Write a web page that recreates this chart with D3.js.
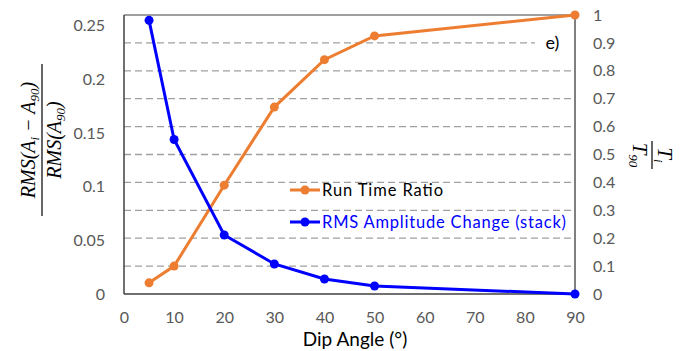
<!DOCTYPE html>
<html>
<head>
<meta charset="utf-8">
<script src="https://cdn.jsdelivr.net/npm/d3@7"></script>
<style>
  body { margin: 0; background: #fff; }
  text { font-family: Lato, "Open Sans", sans-serif; }
</style>
</head>
<body>
<div id="container"></div>
<script>
/* CONSTANTS AND GLOBALS */
const width = 690,
  height = 351,
  margin = { top: 15, bottom: 57, left: 124, right: 115 }

/* DATA */
const dipAngles = [5, 10, 20, 30, 40, 50, 90]
const runTimeRatio = [0.04, 0.1, 0.39, 0.67, 0.84, 0.925, 1.0]
const rmsChange = [0.255, 0.144, 0.055, 0.028, 0.014, 0.0075, 0]
const xTicks = [0, 10, 20, 30, 40, 50, 60, 70, 80, 90]
const leftTicks = [0, 0.05, 0.1, 0.15, 0.2, 0.25]
const rightTicks = [0, 0.1, 0.2, 0.3, 0.4, 0.5, 0.6, 0.7, 0.8, 0.9, 1]
const seriesNames = ["Run Time Ratio", "RMS Amplitude Change (stack)"]

const orange = "#ED7D31", blue = "#0000FF", labelColor = "#595959"

const svg = d3.select("#container")
  .append("svg")
  .attr("width", width)
  .attr("height", height)

const xScale = d3.scaleLinear()
  .domain([0, 90])
  .range([margin.left, width - margin.right])

const yLeft = d3.scaleLinear()
  .domain([0, 0.26])
  .range([height - margin.bottom, margin.top])

const yRight = d3.scaleLinear()
  .domain([0, 1])
  .range([height - margin.bottom, margin.top])

// gridlines (right axis)
svg.append("g")
  .selectAll("line")
  .data(rightTicks.slice(1, -1))
  .join("line")
  .attr("x1", margin.left)
  .attr("x2", width - margin.right)
  .attr("y1", d => yRight(d))
  .attr("y2", d => yRight(d))
  .attr("stroke", "#a0a0a0")
  .attr("stroke-width", 1.3)
  .attr("stroke-dasharray", "7,4")

// "e)" label box
svg.append("rect")
  .attr("x", xScale(82))
  .attr("y", yRight(0.955))
  .attr("width", width - margin.right - xScale(82) - 2)
  .attr("height", yRight(0.84) - yRight(0.955))
  .attr("fill", "#fff")
svg.append("text")
  .attr("x", xScale(85.5))
  .attr("y", yRight(0.9) + 6)
  .attr("text-anchor", "middle")
  .attr("font-size", "18px")
  .attr("fill", "#000")
  .text("e)")

// axes
const xAxis = d3.axisBottom(xScale).tickValues(xTicks).tickSize(0).tickPadding(18)
svg.append("g")
  .attr("class", "x-axis")
  .attr("transform", `translate(0, ${height - margin.bottom})`)
  .call(xAxis)

const leftAxis = d3.axisLeft(yLeft).tickValues(leftTicks).tickSize(0).tickPadding(19)
  .tickFormat(d => +d.toFixed(2))
svg.append("g")
  .attr("class", "y-axis")
  .attr("transform", `translate(${margin.left}, 0)`)
  .call(leftAxis)

const rightAxis = d3.axisRight(yRight).tickValues(rightTicks).tickSize(0).tickPadding(18)
  .tickFormat(d => +d.toFixed(1))
svg.append("g")
  .attr("class", "y-axis-right")
  .attr("transform", `translate(${width - margin.right}, 0)`)
  .call(rightAxis)

svg.selectAll(".tick text")
  .attr("font-family", "Lato, sans-serif")
  .attr("font-size", "16px")
  .attr("fill", labelColor)
svg.selectAll(".domain").remove()

// frame lines
svg.append("line")
  .attr("x1", margin.left).attr("x2", width - margin.right)
  .attr("y1", margin.top).attr("y2", margin.top)
  .attr("stroke", "#404040").attr("stroke-width", 1.2)
svg.append("line")
  .attr("x1", margin.left).attr("x2", width - margin.right)
  .attr("y1", height - margin.bottom).attr("y2", height - margin.bottom)
  .attr("stroke", "#404040").attr("stroke-width", 1.5)
svg.append("line")
  .attr("x1", margin.left).attr("x2", margin.left)
  .attr("y1", margin.top).attr("y2", height - margin.bottom)
  .attr("stroke", "#404040").attr("stroke-width", 1.5)
svg.append("line")
  .attr("x1", width - margin.right).attr("x2", width - margin.right)
  .attr("y1", margin.top).attr("y2", height - margin.bottom)
  .attr("stroke", "#808080").attr("stroke-width", 2)

// series
const runData = dipAngles.map((d, i) => ({ x: d, y: runTimeRatio[i] }))
const rmsData = dipAngles.map((d, i) => ({ x: d, y: rmsChange[i] }))

const runLine = d3.line().x(d => xScale(d.x)).y(d => yRight(d.y))
const rmsLine = d3.line().x(d => xScale(d.x)).y(d => yLeft(d.y))

svg.append("path")
  .datum(runData)
  .attr("d", runLine)
  .attr("fill", "none")
  .attr("stroke", orange)
  .attr("stroke-width", 3)
svg.selectAll("circle.run")
  .data(runData)
  .join("circle")
  .attr("class", "run")
  .attr("cx", d => xScale(d.x))
  .attr("cy", d => yRight(d.y))
  .attr("r", 4.5)
  .attr("fill", orange)

svg.append("path")
  .datum(rmsData)
  .attr("d", rmsLine)
  .attr("fill", "none")
  .attr("stroke", blue)
  .attr("stroke-width", 3)
svg.selectAll("circle.rms")
  .data(rmsData)
  .join("circle")
  .attr("class", "rms")
  .attr("cx", d => xScale(d.x))
  .attr("cy", d => yLeft(d.y))
  .attr("r", 4.5)
  .attr("fill", blue)

// legend
const legend = svg.append("g")
const legendItems = [
  { name: seriesNames[0], color: orange, text: "#000", y: 190, len: 121 },
  { name: seriesNames[1], color: blue, text: blue, y: 222, len: 244 }
]
legendItems.forEach(item => {
  legend.append("line")
    .attr("x1", 290).attr("x2", 320)
    .attr("y1", item.y).attr("y2", item.y)
    .attr("stroke", item.color).attr("stroke-width", 3)
  legend.append("circle")
    .attr("cx", 305).attr("cy", item.y).attr("r", 4.5)
    .attr("fill", item.color)
  legend.append("text")
    .attr("x", 322).attr("y", item.y + 6)
    .attr("font-size", "16.5px")
    .attr("textLength", item.len)
    .attr("lengthAdjust", "spacing")
    .attr("fill", item.text)
    .text(item.name)
})

// x axis title
svg.append("text")
  .attr("x", 355)
  .attr("y", 346)
  .attr("text-anchor", "middle")
  .attr("font-size", "19px")
  .attr("fill", "#000")
  .text("Dip Angle (°)")

// left y title (fraction)
const leftTitle = svg.append("g")
  .attr("transform", "translate(42, 140) rotate(-90)")
  .attr("font-style", "italic")
  .attr("font-size", "20px")
  .attr("fill", "#000")
const num = leftTitle.append("text").attr("x", 0).attr("y", -7).attr("text-anchor", "middle")
  .style("font-family", "'Liberation Serif', serif")
num.append("tspan").text("RMS(A")
num.append("tspan").attr("font-size", "13px").attr("dy", 4).text("i")
num.append("tspan").attr("dy", -4).text(" \u2212 A")
num.append("tspan").attr("font-size", "13px").attr("dy", 4).text("90")
num.append("tspan").attr("dy", -4).text(")")
leftTitle.append("line")
  .attr("x1", -76).attr("x2", 76).attr("y1", 0).attr("y2", 0)
  .attr("stroke", "#000").attr("stroke-width", 1.2)
const den = leftTitle.append("text").attr("x", 0).attr("y", 19).attr("text-anchor", "middle")
  .style("font-family", "'Liberation Serif', serif")
den.append("tspan").text("RMS(A")
den.append("tspan").attr("font-size", "13px").attr("dy", 4).text("90")
den.append("tspan").attr("dy", -4).text(")")

// right y title (fraction)
const rightTitle = svg.append("g")
  .attr("transform", "translate(652, 155) rotate(90)")
  .attr("font-style", "italic")
  .attr("font-size", "21px")
  .attr("fill", "#000")
const rn = rightTitle.append("text").attr("x", 0).attr("y", -6).attr("text-anchor", "middle")
  .style("font-family", "'Liberation Serif', serif")
rn.append("tspan").text("T")
rn.append("tspan").attr("font-size", "13px").attr("dy", 4).text("i")
rightTitle.append("line")
  .attr("x1", -14).attr("x2", 14).attr("y1", 0).attr("y2", 0)
  .attr("stroke", "#000").attr("stroke-width", 1.2)
const rd = rightTitle.append("text").attr("x", 0).attr("y", 19).attr("text-anchor", "middle")
  .style("font-family", "'Liberation Serif', serif")
rd.append("tspan").text("T")
rd.append("tspan").attr("font-size", "13px").attr("dy", 4).text("90")
</script>
</body>
</html>
